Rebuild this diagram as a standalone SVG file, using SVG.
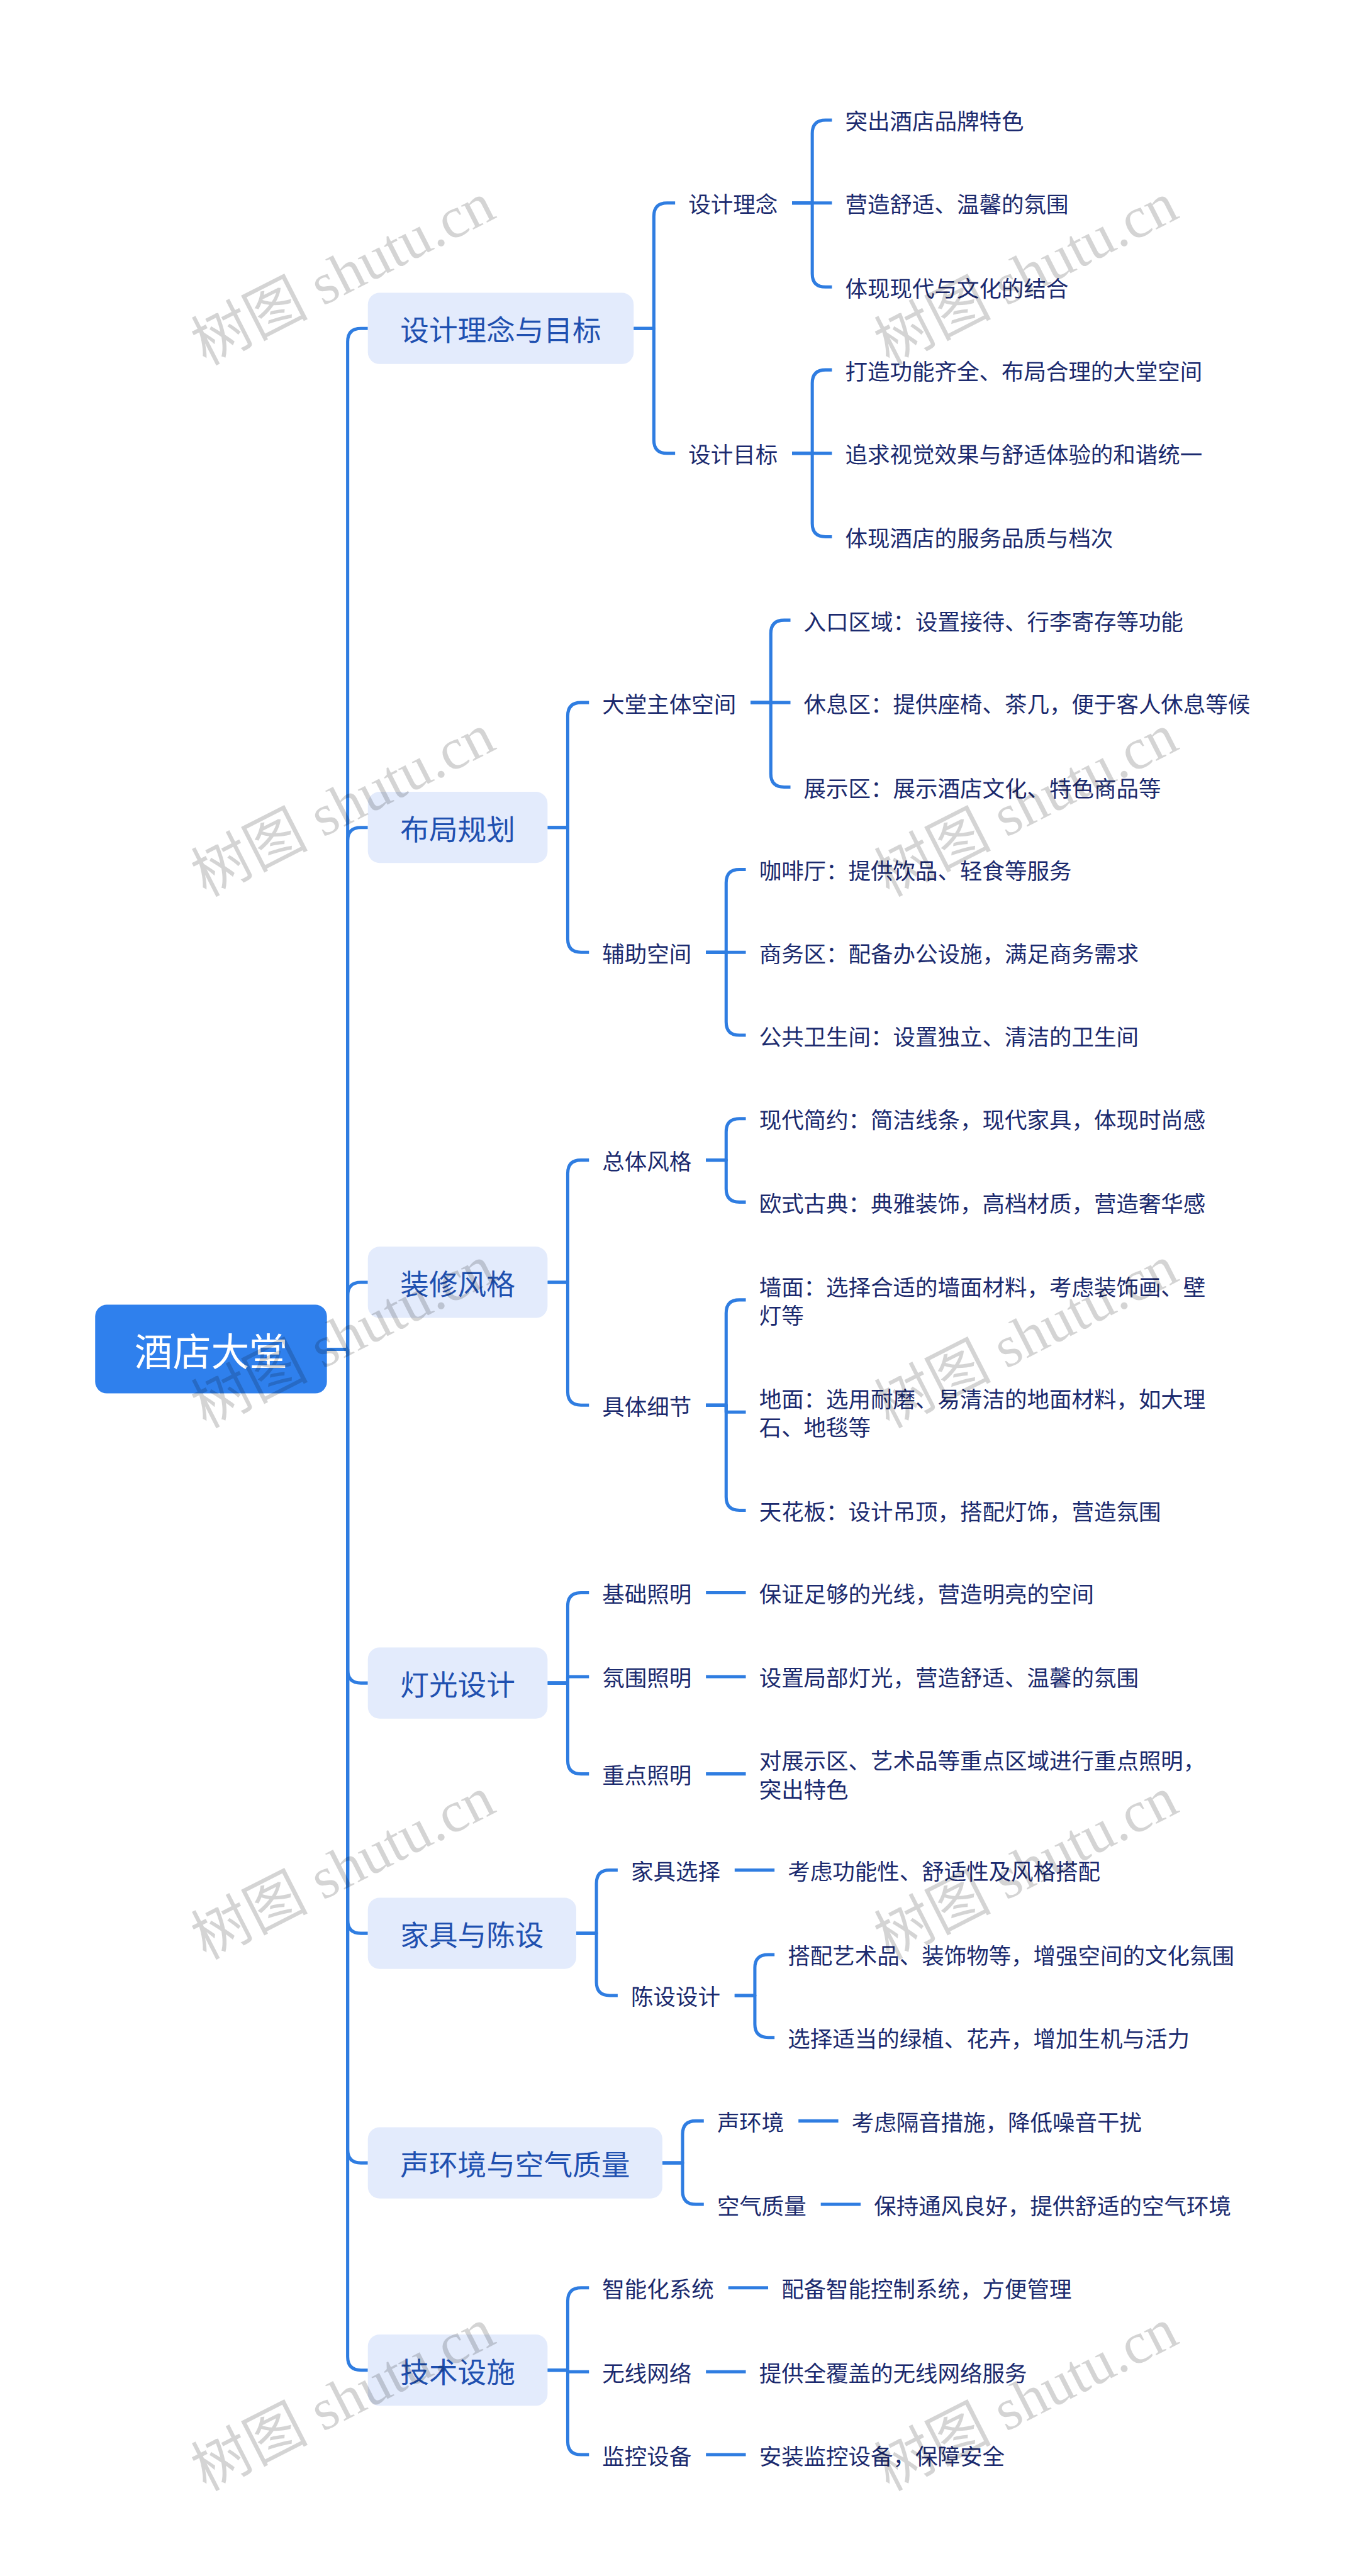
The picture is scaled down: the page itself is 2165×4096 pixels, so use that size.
<svg xmlns="http://www.w3.org/2000/svg" width="2165" height="4096" viewBox="0 0 2165 4096">
<style>
.ln{fill:none;stroke:#2F7DE1;stroke-width:6;stroke-linecap:butt;stroke-linejoin:round}
.root{fill:#2F80ED}
.box{fill:#E3EBFC}
.rt{font-family:"Noto Sans CJK SC","Noto Sans",sans-serif;font-size:72px;fill:#FFFFFF;text-anchor:middle;dominant-baseline:central}
.t1{font-family:"Noto Sans CJK SC","Noto Sans",sans-serif;font-size:54px;fill:#1F50B0;text-anchor:middle;dominant-baseline:central}
.t2{font-family:"Noto Sans CJK SC","Noto Sans",sans-serif;font-size:42px;fill:#1B2A6E;dominant-baseline:central}
.wm{font-family:"Liberation Serif","Noto Sans CJK SC",serif;font-size:110px;fill:#000000;fill-opacity:0.17;text-anchor:middle;dominant-baseline:central}
</style>
<rect x="0" y="0" width="2165" height="4096" fill="#FFFFFF"/>
<g transform="scale(0.845)">
<g id="connectors">
<path class="ln" d="M615 2539 H654 V643 Q654 618 679 618 H692"/>
<path class="ln" d="M615 2539 H654 V1582 Q654 1557 679 1557 H692"/>
<path class="ln" d="M615 2539 H654 V2438 Q654 2413 679 2413 H692"/>
<path class="ln" d="M615 2539 H654 V3142 Q654 3167 679 3167 H692"/>
<path class="ln" d="M615 2539 H654 V3613 Q654 3638 679 3638 H692"/>
<path class="ln" d="M615 2539 H654 V4045 Q654 4070 679 4070 H692"/>
<path class="ln" d="M615 2539 H654 V4435 Q654 4460 679 4460 H692"/>
<path class="ln" d="M1192 618 H1230 V407 Q1230 382 1255 382 H1270"/>
<path class="ln" d="M1192 618 H1230 V828 Q1230 853 1255 853 H1270"/>
<path class="ln" d="M1030 1557 H1068 V1347 Q1068 1322 1093 1322 H1108"/>
<path class="ln" d="M1030 1557 H1068 V1767 Q1068 1792 1093 1792 H1108"/>
<path class="ln" d="M1030 2413 H1068 V2208 Q1068 2183 1093 2183 H1108"/>
<path class="ln" d="M1030 2413 H1068 V2619 Q1068 2644 1093 2644 H1108"/>
<path class="ln" d="M1030 3167 H1068 V3022 Q1068 2997 1093 2997 H1108"/>
<path class="ln" d="M1030 3167 H1068 V3155 H1108"/>
<path class="ln" d="M1030 3167 H1068 V3313 Q1068 3338 1093 3338 H1108"/>
<path class="ln" d="M1084 3638 H1122 V3544 Q1122 3519 1147 3519 H1162"/>
<path class="ln" d="M1084 3638 H1122 V3730 Q1122 3755 1147 3755 H1162"/>
<path class="ln" d="M1246 4070 H1284 V4016 Q1284 3991 1309 3991 H1324"/>
<path class="ln" d="M1246 4070 H1284 V4123 Q1284 4148 1309 4148 H1324"/>
<path class="ln" d="M1030 4460 H1068 V4330 Q1068 4305 1093 4305 H1108"/>
<path class="ln" d="M1030 4460 H1068 V4463 H1108"/>
<path class="ln" d="M1030 4460 H1068 V4594 Q1068 4619 1093 4619 H1108"/>
<path class="ln" d="M1490 382 H1528 V251 Q1528 226 1553 226 H1565"/>
<path class="ln" d="M1490 382 H1565"/>
<path class="ln" d="M1490 382 H1528 V515 Q1528 540 1553 540 H1565"/>
<path class="ln" d="M1490 853 H1528 V721 Q1528 696 1553 696 H1565"/>
<path class="ln" d="M1490 853 H1565"/>
<path class="ln" d="M1490 853 H1528 V985 Q1528 1010 1553 1010 H1565"/>
<path class="ln" d="M1412 1322 H1450 V1192 Q1450 1167 1475 1167 H1487"/>
<path class="ln" d="M1412 1322 H1487"/>
<path class="ln" d="M1412 1322 H1450 V1456 Q1450 1481 1475 1481 H1487"/>
<path class="ln" d="M1328 1792 H1366 V1661 Q1366 1636 1391 1636 H1403"/>
<path class="ln" d="M1328 1792 H1403"/>
<path class="ln" d="M1328 1792 H1366 V1923 Q1366 1948 1391 1948 H1403"/>
<path class="ln" d="M1328 2183 H1366 V2130 Q1366 2105 1391 2105 H1403"/>
<path class="ln" d="M1328 2183 H1366 V2237 Q1366 2262 1391 2262 H1403"/>
<path class="ln" d="M1328 2644 H1366 V2471 Q1366 2446 1391 2446 H1403"/>
<path class="ln" d="M1328 2644 H1366 V2657 H1403"/>
<path class="ln" d="M1328 2644 H1366 V2817 Q1366 2842 1391 2842 H1403"/>
<path class="ln" d="M1328 2997 H1403"/>
<path class="ln" d="M1328 3155 H1403"/>
<path class="ln" d="M1328 3338 H1403"/>
<path class="ln" d="M1382 3519 H1457"/>
<path class="ln" d="M1382 3755 H1420 V3703 Q1420 3678 1445 3678 H1457"/>
<path class="ln" d="M1382 3755 H1420 V3809 Q1420 3834 1445 3834 H1457"/>
<path class="ln" d="M1502 3991 H1577"/>
<path class="ln" d="M1544 4148 H1619"/>
<path class="ln" d="M1370 4305 H1445"/>
<path class="ln" d="M1328 4463 H1403"/>
<path class="ln" d="M1328 4619 H1403"/>
</g>
<g id="root"><rect class="root" x="179" y="2455" width="436" height="167" rx="22"/><text class="rt" x="397" y="2539">酒店大堂</text></g>
<g id="b1"><rect class="box" x="692" y="551" width="500" height="134" rx="22"/><text class="t1" x="942" y="618">设计理念与目标</text></g>
<g id="b2"><rect class="box" x="692" y="1490" width="338" height="134" rx="22"/><text class="t1" x="861" y="1557">布局规划</text></g>
<g id="b3"><rect class="box" x="692" y="2346" width="338" height="134" rx="22"/><text class="t1" x="861" y="2413">装修风格</text></g>
<g id="b4"><rect class="box" x="692" y="3100" width="338" height="134" rx="22"/><text class="t1" x="861" y="3167">灯光设计</text></g>
<g id="b5"><rect class="box" x="692" y="3571" width="392" height="134" rx="22"/><text class="t1" x="888" y="3638">家具与陈设</text></g>
<g id="b6"><rect class="box" x="692" y="4003" width="554" height="134" rx="22"/><text class="t1" x="969" y="4070">声环境与空气质量</text></g>
<g id="b7"><rect class="box" x="692" y="4393" width="338" height="134" rx="22"/><text class="t1" x="861" y="4460">技术设施</text></g>
<g id="n1a"><text class="t2" x="1295" y="382">设计理念</text></g>
<g id="n1b"><text class="t2" x="1295" y="853">设计目标</text></g>
<g id="n2a"><text class="t2" x="1133" y="1322">大堂主体空间</text></g>
<g id="n2b"><text class="t2" x="1133" y="1792">辅助空间</text></g>
<g id="n3a"><text class="t2" x="1133" y="2183">总体风格</text></g>
<g id="n3b"><text class="t2" x="1133" y="2644">具体细节</text></g>
<g id="n4a"><text class="t2" x="1133" y="2997">基础照明</text></g>
<g id="n4b"><text class="t2" x="1133" y="3155">氛围照明</text></g>
<g id="n4c"><text class="t2" x="1133" y="3338">重点照明</text></g>
<g id="n5a"><text class="t2" x="1187" y="3519">家具选择</text></g>
<g id="n5b"><text class="t2" x="1187" y="3755">陈设设计</text></g>
<g id="n6a"><text class="t2" x="1349" y="3991">声环境</text></g>
<g id="n6b"><text class="t2" x="1349" y="4148">空气质量</text></g>
<g id="n7a"><text class="t2" x="1133" y="4305">智能化系统</text></g>
<g id="n7b"><text class="t2" x="1133" y="4463">无线网络</text></g>
<g id="n7c"><text class="t2" x="1133" y="4619">监控设备</text></g>
<g id="l1"><text class="t2" x="1590" y="226">突出酒店品牌特色</text></g>
<g id="l2"><text class="t2" x="1590" y="382">营造舒适、温馨的氛围</text></g>
<g id="l3"><text class="t2" x="1590" y="540">体现现代与文化的结合</text></g>
<g id="l4"><text class="t2" x="1590" y="696">打造功能齐全、布局合理的大堂空间</text></g>
<g id="l5"><text class="t2" x="1590" y="853">追求视觉效果与舒适体验的和谐统一</text></g>
<g id="l6"><text class="t2" x="1590" y="1010">体现酒店的服务品质与档次</text></g>
<g id="l7"><text class="t2" x="1512" y="1167">入口区域：设置接待、行李寄存等功能</text></g>
<g id="l8"><text class="t2" x="1512" y="1322">休息区：提供座椅、茶几，便于客人休息等候</text></g>
<g id="l9"><text class="t2" x="1512" y="1481">展示区：展示酒店文化、特色商品等</text></g>
<g id="l10"><text class="t2" x="1428" y="1636">咖啡厅：提供饮品、轻食等服务</text></g>
<g id="l11"><text class="t2" x="1428" y="1792">商务区：配备办公设施，满足商务需求</text></g>
<g id="l12"><text class="t2" x="1428" y="1948">公共卫生间：设置独立、清洁的卫生间</text></g>
<g id="l13"><text class="t2" x="1428" y="2105">现代简约：简洁线条，现代家具，体现时尚感</text></g>
<g id="l14"><text class="t2" x="1428" y="2262">欧式古典：典雅装饰，高档材质，营造奢华感</text></g>
<g id="l15"><text class="t2" x="1428" y="2420">墙面：选择合适的墙面材料，考虑装饰画、壁</text><text class="t2" x="1428" y="2473">灯等</text></g>
<g id="l16"><text class="t2" x="1428" y="2630">地面：选用耐磨、易清洁的地面材料，如大理</text><text class="t2" x="1428" y="2684">石、地毯等</text></g>
<g id="l17"><text class="t2" x="1428" y="2842">天花板：设计吊顶，搭配灯饰，营造氛围</text></g>
<g id="l18"><text class="t2" x="1428" y="2997">保证足够的光线，营造明亮的空间</text></g>
<g id="l19"><text class="t2" x="1428" y="3155">设置局部灯光，营造舒适、温馨的氛围</text></g>
<g id="l20"><text class="t2" x="1428" y="3311">对展示区、艺术品等重点区域进行重点照明，</text><text class="t2" x="1428" y="3365">突出特色</text></g>
<g id="l21"><text class="t2" x="1482" y="3519">考虑功能性、舒适性及风格搭配</text></g>
<g id="l22"><text class="t2" x="1482" y="3678">搭配艺术品、装饰物等，增强空间的文化氛围</text></g>
<g id="l23"><text class="t2" x="1482" y="3834">选择适当的绿植、花卉，增加生机与活力</text></g>
<g id="l24"><text class="t2" x="1602" y="3991">考虑隔音措施，降低噪音干扰</text></g>
<g id="l25"><text class="t2" x="1644" y="4148">保持通风良好，提供舒适的空气环境</text></g>
<g id="l26"><text class="t2" x="1470" y="4305">配备智能控制系统，方便管理</text></g>
<g id="l27"><text class="t2" x="1428" y="4463">提供全覆盖的无线网络服务</text></g>
<g id="l28"><text class="t2" x="1428" y="4619">安装监控设备，保障安全</text></g>
<g id="watermarks">
<text class="wm" x="645" y="515" transform="rotate(-27 645 515)">树图 shutu.cn</text>
<text class="wm" x="1930" y="515" transform="rotate(-27 1930 515)">树图 shutu.cn</text>
<text class="wm" x="645" y="1515" transform="rotate(-27 645 1515)">树图 shutu.cn</text>
<text class="wm" x="1930" y="1515" transform="rotate(-27 1930 1515)">树图 shutu.cn</text>
<text class="wm" x="645" y="2515" transform="rotate(-27 645 2515)">树图 shutu.cn</text>
<text class="wm" x="1930" y="2515" transform="rotate(-27 1930 2515)">树图 shutu.cn</text>
<text class="wm" x="645" y="3515" transform="rotate(-27 645 3515)">树图 shutu.cn</text>
<text class="wm" x="1930" y="3515" transform="rotate(-27 1930 3515)">树图 shutu.cn</text>
<text class="wm" x="645" y="4515" transform="rotate(-27 645 4515)">树图 shutu.cn</text>
<text class="wm" x="1930" y="4515" transform="rotate(-27 1930 4515)">树图 shutu.cn</text>
</g>
</g>
</svg>
